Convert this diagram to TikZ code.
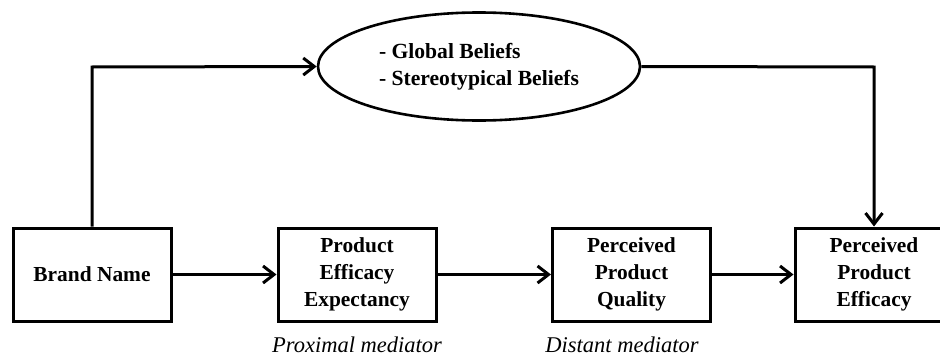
\documentclass[tikz,border=0pt]{standalone}
\usepackage{fontspec}
\setmainfont{Liberation Serif}
\usepackage{tikz}
\usetikzlibrary{arrows.meta,shapes.geometric,positioning}
\tikzset{
  box/.style={draw=black, line width=3pt, minimum width=158pt, minimum height=93pt,
    align=center, inner sep=0pt, font=\bfseries\fontsize{21.4}{26.7}\selectfont},
  oval/.style={draw=black, ellipse, line width=2.6pt, minimum width=322pt, minimum height=108pt,
    align=left, inner sep=0pt, font=\bfseries\fontsize{21.6}{27}\selectfont},
  link/.style={draw=black, line width=3pt, -{Straight Barb[length=11pt,width=17pt,line width=3pt]}},
  note/.style={font=\itshape\fontsize{22.5}{27}\selectfont, inner sep=0pt},
}
\begin{document}
\begin{tikzpicture}[x=1pt, y=-1pt]
\clip (0,0) rectangle (940,356);
\fill[white] (0,0) rectangle (940,356);

% main chain of boxes
\node[box] (brand) at (92,274.5) {Brand Name};
\node[box] (expect) at (357,274.5) {Product\\Efficacy\\Expectancy};
\node[box] (quality) at (631.5,274.5) {Perceived\\Product\\Quality};
\node[box] (efficacy) at (874,274.5) {Perceived\\Product\\Efficacy};

% beliefs
\node[oval] (beliefs) at (479,66.5) {- Global Beliefs\\- Stereotypical Beliefs};

\node[note] (prox) at (357,345) {Proximal mediator};
\node[note] (dist) at (622,345) {Distant mediator};

\coordinate (up) at (92,67);
\coordinate (over) at (874,67);

\draw[link] (brand.east) -- (expect.west);
\draw[link] (expect.east) -- (quality.west);
\draw[link] (quality.east) -- (efficacy.west);
\draw[link] (brand.north) -- (up) -- (beliefs.west);
\draw[link] (beliefs.east) -- (over) -- (efficacy.north);
\end{tikzpicture}
\end{document}
